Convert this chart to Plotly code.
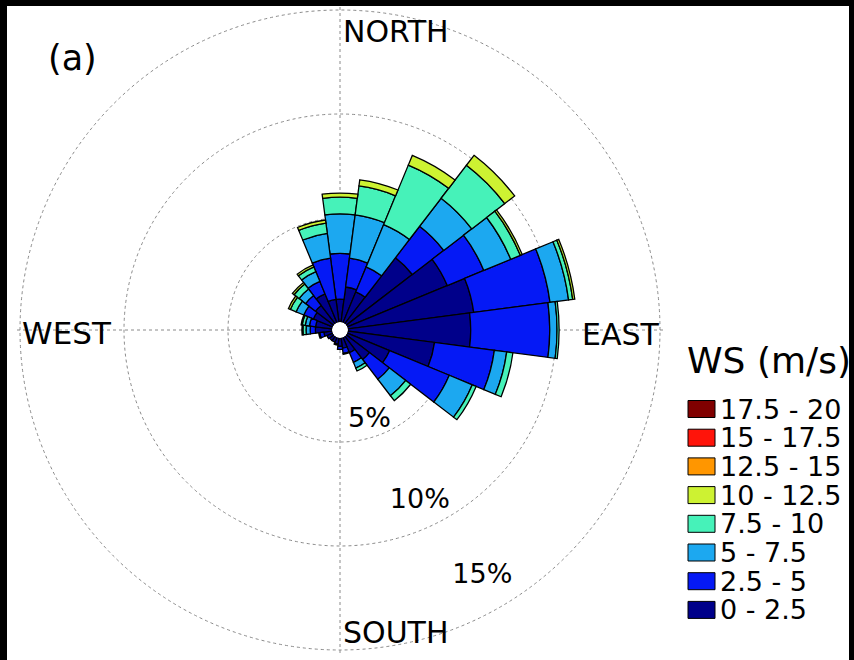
import plotly.graph_objects as go

# ---- data -------------------------------------------------------------
directions = [0, 15, 30, 45, 60, 75, 90, 105, 120, 135, 150, 165,
              180, 195, 210, 225, 240, 255, 270, 285, 300, 315, 330, 345]

speed_bins = ["0 - 2.5", "2.5 - 5", "5 - 7.5", "7.5 - 10",
              "10 - 12.5", "12.5 - 15", "15 - 17.5", "17.5 - 20"]

# frequency (%) of each speed class per direction sector
freq_0_25 = [1.1, 1.7, 1.6, 4.0, 5.2, 6.1, 5.9, 4.2, 2.2, 1.4, 0.8, 0.5,
             0.4, 0.3, 0.25, 0.25, 0.3, 0.4, 0.8, 0.8, 1.0, 1.1, 1.5, 1.1]
freq_25_5 = [2.2, 1.4, 1.3, 1.9, 1.9, 3.7, 3.8, 2.9, 3.1, 1.2, 0.5, 0.25,
             0.15, 0.05, 0.0, 0.0, 0.0, 0.2, 0.25, 0.3, 0.5, 0.6, 0.65, 2.0]
freq_5_75 = [1.9, 2.1, 2.2, 1.7, 1.4, 0.9, 0.35, 0.6, 1.2, 1.0, 0.3, 0.05,
             0.0, 0.0, 0.0, 0.0, 0.0, 0.05, 0.2, 0.2, 0.4, 0.4, 0.5, 1.2]
freq_75_10 = [0.8, 1.4, 3.1, 2.0, 0.5, 0.2, 0.1, 0.3, 0.2, 0.3, 0.15, 0.0,
              0.0, 0.0, 0.0, 0.0, 0.0, 0.0, 0.15, 0.15, 0.3, 0.3, 0.25, 0.5]
freq_10_125 = [0.2, 0.3, 0.5, 0.6, 0.1, 0.1, 0.0, 0.0, 0.0, 0.0, 0.0, 0.0,
               0.0, 0.0, 0.0, 0.0, 0.0, 0.0, 0.05, 0.05, 0.1, 0.1, 0.1, 0.15]
freq_125_15 = [0.0] * 24
freq_15_175 = [0.0] * 24
freq_175_20 = [0.0] * 24

series = [freq_0_25, freq_25_5, freq_5_75, freq_75_10,
          freq_10_125, freq_125_15, freq_15_175, freq_175_20]

bin_colors = ["rgb(0,0,138)", "rgb(5,25,245)", "rgb(28,168,240)",
              "rgb(70,242,185)", "rgb(205,242,50)", "rgb(255,150,0)",
              "rgb(255,20,10)", "rgb(128,0,0)"]

ring_values = [5, 10, 15]
ring_text = ["5%", "10%", "15%"]

compass_text = ["NORTH", "WEST", "EAST", "SOUTH"]

# ---- figure geometry --------------------------------------------------
W, H = 854, 660
FONT = "DejaVu Sans, Liberation Sans, Arial, sans-serif"

CX, CY = 340, 330          # centre of the rose (px)
R_MAX = 15.15              # radial range, a little beyond the 15 % ring
PX_PER_PCT = 20.8
HOLE_PX = 8
R_OUT = HOLE_PX + PX_PER_PCT * R_MAX


def px(x):
    return x / W


def py(y):
    return 1 - y / H


fig = go.Figure()

for vals, name, col in zip(series, speed_bins, bin_colors):
    fig.add_trace(go.Barpolar(
        r=vals, theta=directions, width=15, name=name,
        marker=dict(color=col, line=dict(color="black", width=1.3)),
        showlegend=False, hoverinfo="skip",
    ))

# ring labels placed along the SSE direction, just inside each ring
ring_label_r = [4.2, 8.7, 13.3]
ring_label_theta = [162, 155, 150]
fig.add_trace(go.Scatterpolar(
    r=ring_label_r, theta=ring_label_theta, text=ring_text, mode="text",
    textfont=dict(family=FONT, size=27, color="black"),
    showlegend=False, hoverinfo="skip",
))

fig.update_layout(
    width=W, height=H,
    margin=dict(l=0, r=0, t=0, b=0),
    paper_bgcolor="black",
    showlegend=False,
    polar=dict(
        domain=dict(x=[px(CX - R_OUT), px(CX + R_OUT)],
                    y=[py(CY + R_OUT), py(CY - R_OUT)]),
        bgcolor="white",
        hole=HOLE_PX / R_OUT,
        barmode="stack",
        radialaxis=dict(range=[0, R_MAX], tickvals=ring_values,
                        showticklabels=False, ticks="", showline=False,
                        gridcolor="#8a8a8a", griddash="dot", gridwidth=1),
        angularaxis=dict(rotation=90, direction="clockwise",
                         tickvals=[0, 90, 180, 270], showticklabels=False,
                         ticks="", showline=False,
                         gridcolor="#8a8a8a", griddash="dot", gridwidth=1),
    ),
)

# white page with a thin black frame on the left, top and right
fig.add_shape(type="rect", xref="paper", yref="paper", layer="below",
              x0=px(7), x1=px(849), y0=py(660), y1=py(6),
              fillcolor="white", line=dict(width=0))

annotations = [
    dict(text="(a)", x=px(46), y=py(58), xanchor="left", yanchor="middle",
         font=dict(size=35)),
    dict(text=compass_text[0], x=px(341), y=py(32), xanchor="left",
         yanchor="middle", font=dict(size=30)),
    dict(text=compass_text[1], x=px(20), y=py(333), xanchor="left",
         yanchor="middle", font=dict(size=31)),
    dict(text=compass_text[2], x=px(662), y=py(334), xanchor="right",
         yanchor="middle", font=dict(size=30)),
    dict(text=compass_text[3], x=px(341), y=py(632), xanchor="left",
         yanchor="middle", font=dict(size=30)),
    dict(text="WS (m/s)", x=px(685), y=py(360), xanchor="left",
         yanchor="middle", font=dict(size=36)),
]

# legend: swatch + label, highest class on top
row0, row_step = 409, 28.7
for i, (name, col) in enumerate(zip(speed_bins[::-1], bin_colors[::-1])):
    yc = row0 + i * row_step
    fig.add_shape(type="rect", xref="paper", yref="paper",
                  x0=px(688), x1=px(715), y0=py(yc + 8.5), y1=py(yc - 8.5),
                  fillcolor=col, line=dict(color="black", width=1))
    annotations.append(dict(text=name, x=px(718), y=py(yc), xanchor="left",
                            yanchor="middle", font=dict(size=27)))

for a in annotations:
    a.update(xref="paper", yref="paper", showarrow=False)
    a["font"].update(family=FONT, color="black")
fig.update_layout(annotations=annotations)

fig.write_html("out.html")
